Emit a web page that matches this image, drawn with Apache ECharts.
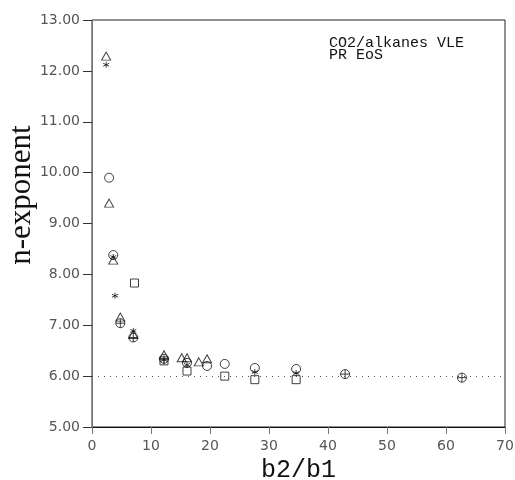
<!DOCTYPE html>
<html><head><meta charset="utf-8">
<script src="https://cdn.jsdelivr.net/npm/echarts@6/dist/echarts.min.js"></script>
<style>html,body{margin:0;padding:0;background:#fff}#c{width:515px;height:480px}</style>
</head><body><div id="c"></div>
<script>
const xTicks = [0, 10, 20, 30, 40, 50, 60, 70];
const yTicks = ['5.00','6.00','7.00','8.00','9.00','10.00','11.00','12.00','13.00'];
const triX = [2.4, 2.9, 3.6, 4.8, 7.0, 12.2, 15.2, 16.1, 18.1, 19.5];
const triY = [12.29, 9.40, 8.28, 7.16, 6.82, 6.42, 6.36, 6.36, 6.28, 6.34];
const starX = [2.4, 3.6, 3.9, 7.0, 12.2, 16.1, 27.6, 34.6];
const starY = [12.12, 8.34, 7.58, 6.89, 6.32, 6.22, 6.08, 6.06];
const circX = [2.9, 3.6, 4.8, 7.0, 12.2, 16.1, 19.5, 22.5, 27.6, 34.6, 42.9, 62.7];
const circY = [9.90, 8.38, 7.04, 6.76, 6.34, 6.26, 6.20, 6.24, 6.16, 6.14, 6.04, 5.97];
const plusX = [4.8, 7.0, 12.2, 42.9, 62.7];
const plusY = [7.04, 6.76, 6.32, 6.04, 5.97];
const sqX = [7.2, 12.2, 16.1, 22.5, 27.6, 34.6];
const sqY = [7.83, 6.30, 6.10, 6.00, 5.93, 5.93];
const refY = 6.0;
const notes = ['CO2/alkanes VLE', 'PR EoS'];
const yName = 'n-exponent';

const pair = (xs, ys) => xs.map((x, i) => [x, ys[i]]);
const open = {color: 'rgba(255,255,255,0)', borderColor: '#111', borderWidth: 1};
const chart = echarts.init(document.getElementById('c'));
chart.setOption({
  animation: false,
  grid: {left: 92, right: 10, top: 20, bottom: 53, containLabel: false, outerBoundsMode: 'none',
    show: true, borderColor: '#222', borderWidth: 1},
  xAxis: {
    type: 'value', min: 0, max: 70, interval: 10,
    name: 'b2/b1', nameLocation: 'middle', nameGap: 30,
    nameTextStyle: {fontFamily: 'Liberation Mono', fontSize: 25, color: '#111'},
    axisLine: {lineStyle: {color: '#111'}},
    axisTick: {length: 7, lineStyle: {color: '#777'}},
    axisLabel: {fontFamily: 'DejaVu Sans', fontSize: 14, color: '#555', margin: 12,
      formatter: v => xTicks.includes(v) ? String(v) : ''},
    splitLine: {show: false}
  },
  yAxis: {
    type: 'value', min: 5, max: 13, interval: 1,
    axisLine: {lineStyle: {color: '#777'}},
    axisTick: {length: 9, lineStyle: {color: '#333'}},
    axisLabel: {fontFamily: 'DejaVu Sans', fontSize: 14, color: '#555', margin: 12,
      formatter: v => yTicks[Math.round(v - 5)]},
    splitLine: {show: false}
  },
  graphic: [
    {type: 'text', x: 22, y: 195, rotation: Math.PI / 2,
      style: {text: yName, font: '31px "Liberation Serif"', fill: '#111', align: 'center', verticalAlign: 'middle'}},
    {type: 'text', left: 329, top: 36, style: {text: notes[0], font: '15px "Liberation Mono"', fill: '#111'}},
    {type: 'text', left: 329, top: 48, style: {text: notes[1], font: '15px "Liberation Mono"', fill: '#111'}}
  ],
  series: [
    {type: 'scatter', data: pair(sqX, sqY), symbol: 'rect', symbolSize: 8, itemStyle: open,
      markLine: {silent: true, symbol: 'none', label: {show: false},
        lineStyle: {type: [1, 5], color: '#555', width: 1}, data: [{yAxis: refY}]}},
    {type: 'scatter', data: pair(circX, circY), symbol: 'circle', symbolSize: 9, itemStyle: open},
    {type: 'scatter', data: pair(triX, triY), symbol: 'triangle', symbolSize: [9, 8], itemStyle: open},
    {type: 'scatter', data: pair(plusX, plusY), symbol: 'path://M0,-10L0,10M-10,0L10,0', symbolSize: 9,
      itemStyle: {color: 'rgba(0,0,0,0)', borderColor: '#111', borderWidth: 1}},
    {type: 'scatter', data: pair(starX, starY), symbol: 'path://M0,-10L0,10M-8.66,-5L8.66,5M-8.66,5L8.66,-5', symbolSize: 6,
      itemStyle: {color: 'rgba(0,0,0,0)', borderColor: '#111', borderWidth: 1}}
  ]
});
</script></body></html>
